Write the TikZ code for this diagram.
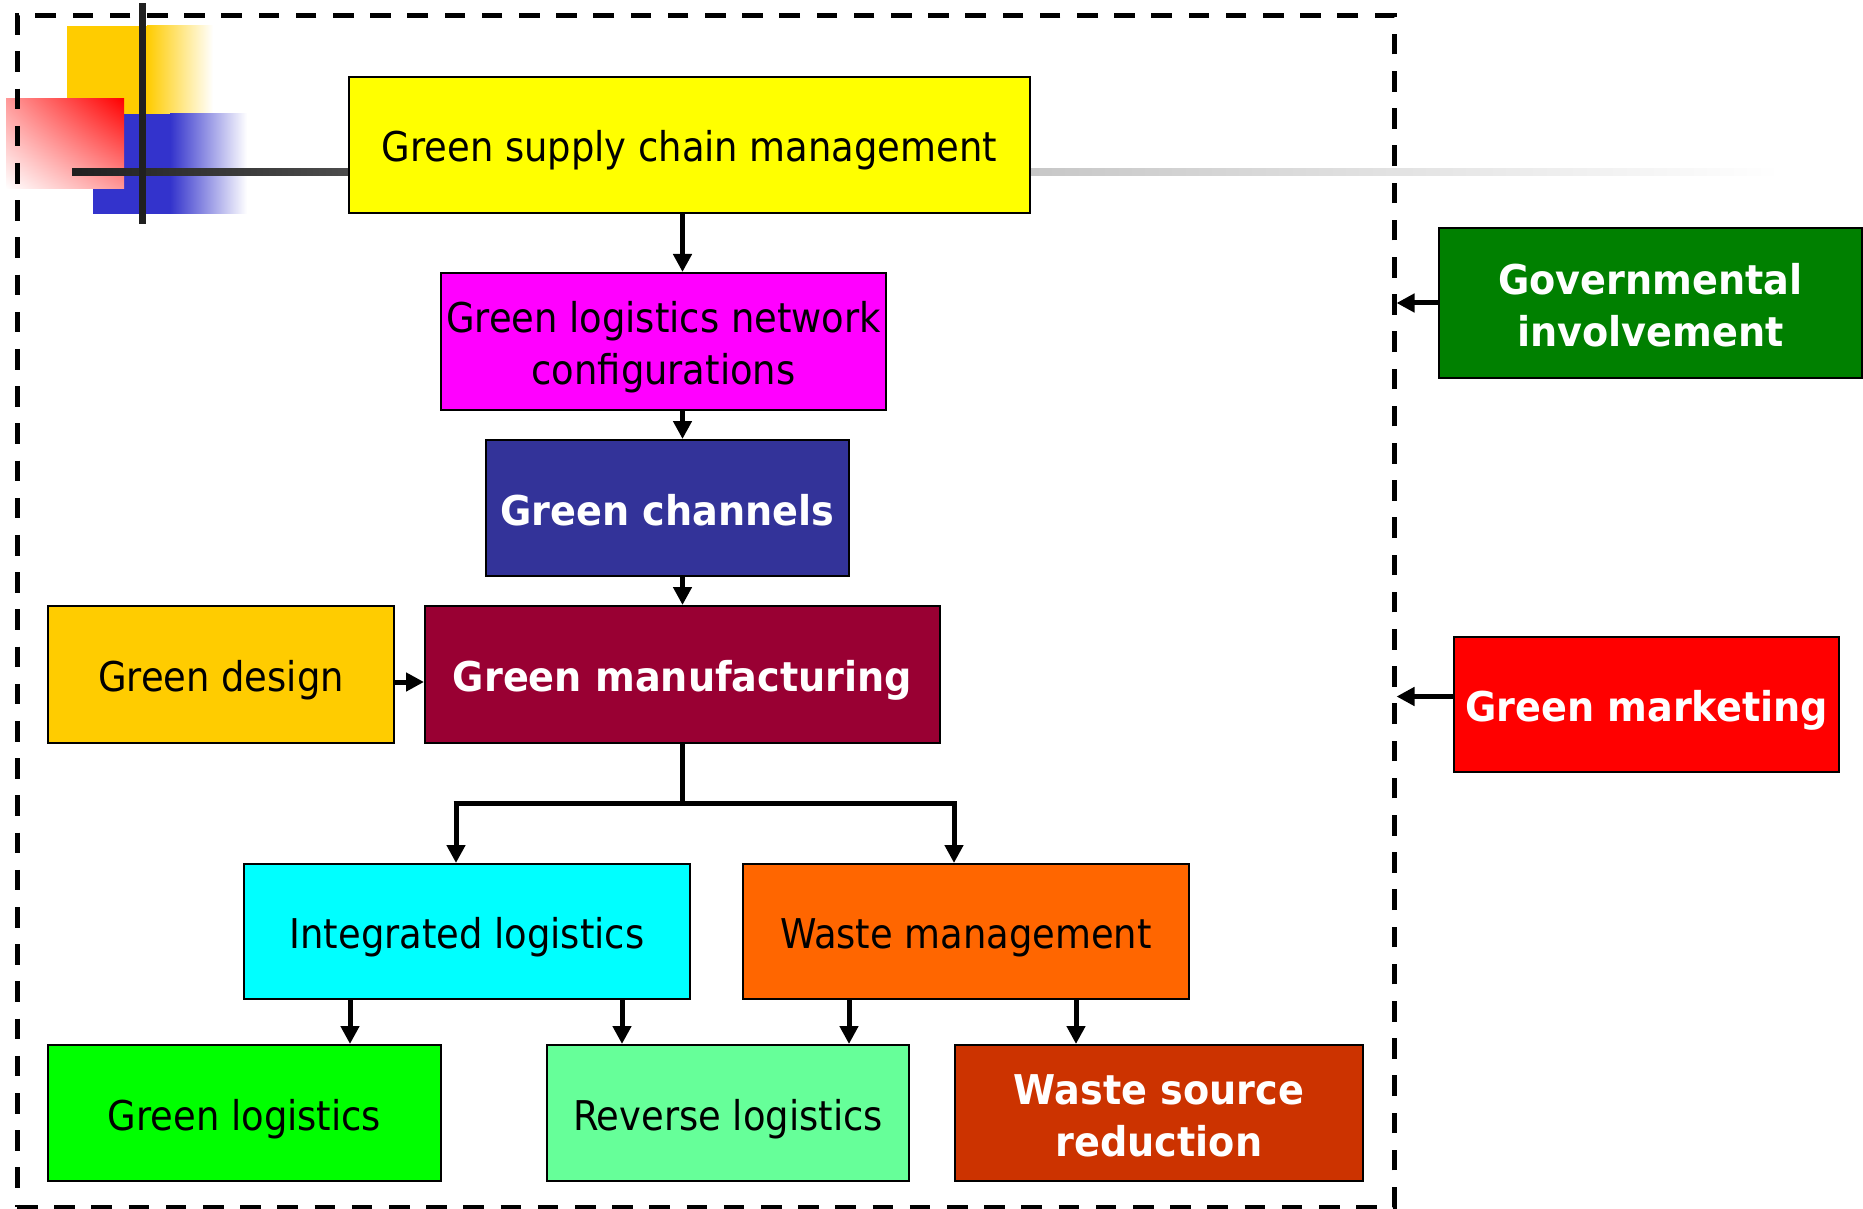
\documentclass[tikz,border=0pt]{standalone}
\usepackage{fontspec}
\setmainfont{DejaVu Sans Condensed}[BoldFeatures={FakeStretch=1.035}]
\usetikzlibrary{arrows.meta,shadings}
\definecolor{cYellow}{HTML}{FFFF00}
\definecolor{cMagenta}{HTML}{FF00FF}
\definecolor{cNavy}{HTML}{333399}
\definecolor{cGold}{HTML}{FFCC00}
\definecolor{cWine}{HTML}{990033}
\definecolor{cCyan}{HTML}{00FFFF}
\definecolor{cOrange}{HTML}{FF6600}
\definecolor{cLime}{HTML}{00FF00}
\definecolor{cMint}{HTML}{66FF99}
\definecolor{cRust}{HTML}{CC3300}
\definecolor{cGreen}{HTML}{008000}
\definecolor{cRed}{HTML}{FF0000}
\definecolor{cBlue}{HTML}{3333CC}
\definecolor{cDark}{HTML}{202020}
\newcommand\st{\rule[-4.5pt]{0pt}{26pt}}
\begin{document}
\begin{tikzpicture}[x=0.5pt,y=-0.5pt,
  box/.style={draw=black, line width=1pt, inner sep=0pt, align=center,
    font=\fontsize{20.5pt}{26pt}\selectfont},
  wbox/.style={box, text=white, font=\bfseries\fontsize{20.5pt}{26pt}\selectfont},
  arr/.style={line width=2.5pt, -{Triangle[length=9pt,width=9pt]}},
  frm/.style={draw=black, line width=2.5pt, dash pattern=on 10.3pt off 8.3pt, inner sep=0pt}]
\useasboundingbox (0,0) rectangle (1863,1209);
% decoration
\fill[cGold] (67,26) rectangle (147,114);
\shade[left color=cGold, right color=white] (147,26) rectangle (213,114);
\fill[cBlue] (93,114) rectangle (170,214);
\shade[left color=cBlue, right color=white] (170,114) rectangle (247,214);
\shade[upper right=cRed, lower left=white, upper left=cRed!40, lower right=cRed!40] (6,99) rectangle (124,189);
\shade[left color=cDark, right color=black!70] (72,169) rectangle (350,176);
\shade[left color=black!22, right color=white] (1030,169) rectangle (1780,176);
\fill[cDark] (139,3) rectangle (146,224);
% frame
\node[frm, minimum width=688.5pt, minimum height=595.5pt] (frame) at (705.5,611.5) {};
% boxes
\node[box, fill=cYellow, minimum width=340.5pt, minimum height=68pt] (gscm) at (689.5,145) {\st Green supply chain management};
\node[box, fill=cMagenta, minimum width=222.5pt, minimum height=68.5pt] (glnc) at (663.5,341.5) {\st Green logistics network\\\st configurations};
\node[wbox, fill=cNavy, minimum width=181.5pt, minimum height=68pt] (gc) at (667.5,508) {\st Green channels};
\node[box, fill=cGold, minimum width=173pt, minimum height=68.5pt] (gd) at (221,674.5) {\st Green design};
\node[wbox, fill=cWine, minimum width=257.5pt, minimum height=68.5pt] (gm) at (682.5,674.5) {\st Green manufacturing};
\node[box, fill=cCyan, minimum width=223pt, minimum height=67.5pt] (il) at (467,931.5) {\st Integrated logistics};
\node[box, fill=cOrange, minimum width=223pt, minimum height=67.5pt] (wm) at (966,931.5) {\st Waste management};
\node[box, fill=cLime, minimum width=196.5pt, minimum height=68pt] (gl) at (244.5,1113) {\st Green logistics};
\node[box, fill=cMint, minimum width=181pt, minimum height=68pt] (rl) at (728,1113) {\st Reverse logistics};
\node[wbox, fill=cRust, minimum width=204pt, minimum height=68pt] (wsr) at (1159,1113) {\st Waste source\\\st reduction};
\node[wbox, fill=cGreen, minimum width=211.5pt, minimum height=75pt] (gov) at (1650.5,303) {\st Governmental\\\st involvement};
\node[wbox, fill=cRed, minimum width=192.5pt, minimum height=67.5pt] (gmk) at (1646.5,704.5) {\st Green marketing};
% connectors
\draw[arr] (gscm.south -| gm.north) -- (glnc.north -| gm.north);
\draw[arr] (glnc.south -| gm.north) -- (gc.north -| gm.north);
\draw[arr] (gc.south -| gm.north) -- (gm.north);
\draw[arr] ([yshift=-3.75pt]gd.east) -- ([yshift=-3.75pt]gm.west);
\coordinate (j) at (682.5,803);
\coordinate (jl) at (456,803);
\coordinate (jr) at (954,803);
\draw[line width=2.5pt] (gm.south) -- (j);
\draw[line width=2.5pt] ([xshift=-1.25pt]jl) -- ([xshift=1.25pt]jr);
\draw[arr] (jl) -- (jl |- il.north);
\draw[arr] (jr) -- (jr |- wm.north);
\coordinate (a1) at (350,0);
\coordinate (a2) at (622,0);
\coordinate (a3) at (849,0);
\coordinate (a4) at (1076,0);
\draw[arr] (il.south -| a1) -- (gl.north -| a1);
\draw[arr] (il.south -| a2) -- (rl.north -| a2);
\draw[arr] (wm.south -| a3) -- (rl.north -| a3);
\draw[arr] (wm.south -| a4) -- (wsr.north -| a4);
\draw[arr] (gov.west) -- (gov.west -| frame.east);
\draw[arr] ([yshift=4pt]gmk.west) -- ([yshift=4pt]gmk.west -| frame.east);
\end{tikzpicture}
\end{document}
